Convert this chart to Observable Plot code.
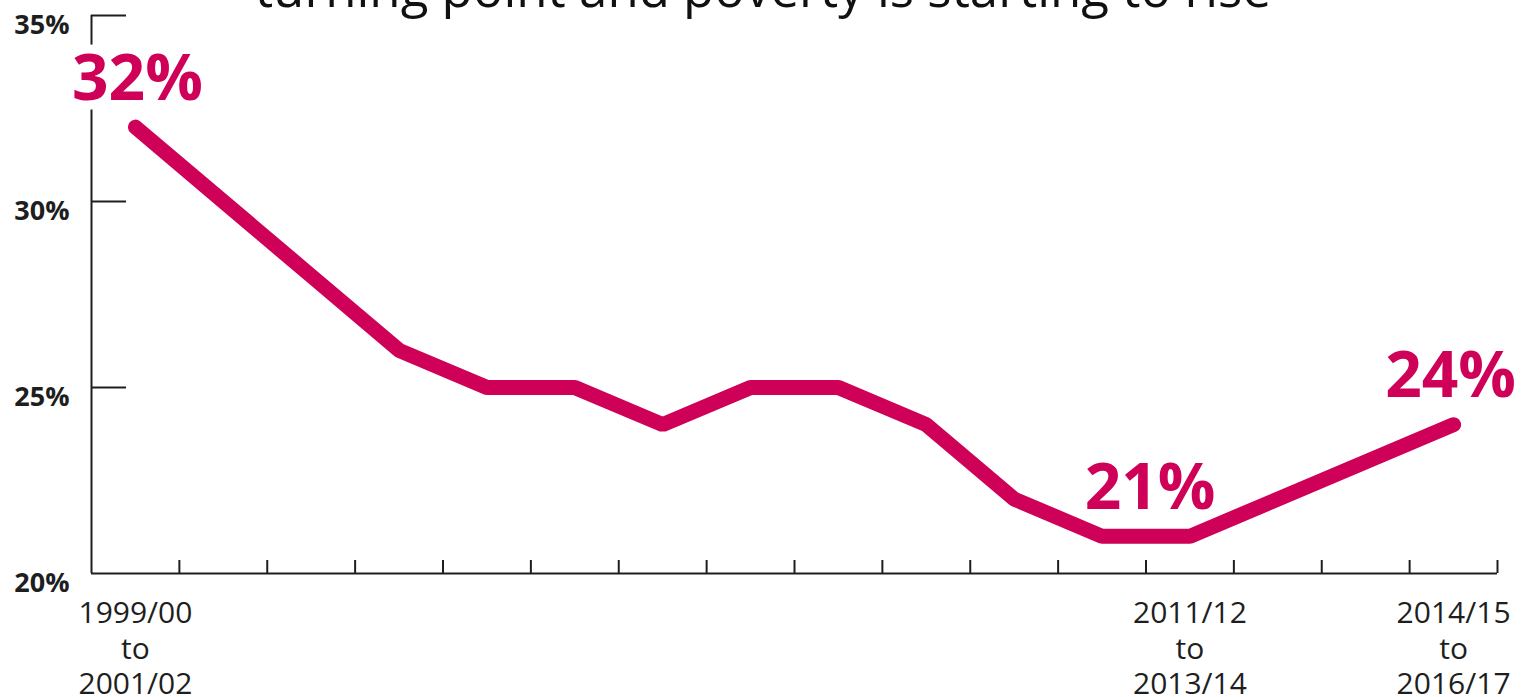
<!DOCTYPE html>
<html>
<head>
<meta charset="utf-8">
<script src="https://cdn.jsdelivr.net/npm/d3@7"></script>
<script src="https://cdn.jsdelivr.net/npm/@observablehq/plot@0.6"></script>
<style>
  html, body { margin: 0; padding: 0; background: #fff; overflow: hidden; }
  #wrap { position: relative; width: 1526px; height: 697px; }
  #title { position: absolute; left: 0; width: 1526px; top: -38px; text-align: center;
           font-family: "Open Sans", sans-serif; font-size: 51px; line-height: 51px; color: #111; }
  #chart { position: absolute; left: 0; top: 0; }
</style>
</head>
<body>
<div id="wrap">
  <div id="chart"></div>
  <div id="title">turning point and poverty is starting to rise</div>
</div>
<script>
const periods = [
  "1999/00\nto\n2001/02", "2000/01\nto\n2002/03", "2001/02\nto\n2003/04", "2002/03\nto\n2004/05",
  "2003/04\nto\n2005/06", "2004/05\nto\n2006/07", "2005/06\nto\n2007/08", "2006/07\nto\n2008/09",
  "2007/08\nto\n2009/10", "2008/09\nto\n2010/11", "2009/10\nto\n2011/12", "2010/11\nto\n2012/13",
  "2011/12\nto\n2013/14", "2012/13\nto\n2014/15", "2013/14\nto\n2015/16", "2014/15\nto\n2016/17"
];
const values = [32, 30, 28, 26, 25, 25, 24, 25, 25, 24, 22, 21, 21, 22, 23, 24];
const labelledPeriods = [1, 13, 16];       // 1-based period index shown on the x axis
const highlighted = [0, 11, 15];           // indices whose value is printed
const labelShift = [2, 48, -3];            // horizontal nudge (px) for each printed value
const yTicks = [20, 25, 30, 35];

const data = values.map((v, i) => ({i: i + 1, v, period: periods[i]}));
const hl = highlighted.map((k) => data[k]);
const boundaries = d3.range(1.5, periods.length + 1, 1);

const W = 1526, H = 697, mL = 91, mR = 29, mT = 15, mB = 124;
const plotW = W - mL - mR, plotH = H - mT - mB;
const pink = "#cf0057", ink = "#1e1e1e";

const chart = Plot.plot({
  width: W, height: H,
  marginLeft: mL, marginRight: mR, marginTop: mT, marginBottom: mB,
  style: {fontFamily: "'Open Sans', sans-serif", background: "transparent"},
  x: {domain: [0.5, periods.length + 0.5]},
  y: {domain: [20, 35]},
  marks: [
    Plot.axisY({ticks: yTicks, tickSize: 0, tickPadding: 22, tickFormat: d => d + "%",
                fontSize: 27, fontWeight: 700, fill: ink, dy: 10, label: null}),
    Plot.axisX({ticks: labelledPeriods, tickSize: 0, tickPadding: 24,
                tickFormat: d => periods[d - 1], fontSize: 30, lineHeight: 1.19,
                fill: ink, label: null}),
    Plot.ruleY(yTicks.slice(1), {stroke: ink, strokeWidth: 2, insetRight: plotW - 35}),
    Plot.ruleX(boundaries, {stroke: ink, strokeWidth: 2, insetTop: plotH - 13}),
    Plot.ruleX([0.5], {stroke: ink, strokeWidth: 2}),
    Plot.ruleY([20], {stroke: ink, strokeWidth: 2}),
    Plot.line(data, {x: "i", y: "v", stroke: pink, strokeWidth: 15,
                     strokeLinecap: "round", strokeLinejoin: "miter"}),
    Plot.text(hl, {x: "i", y: "v", text: d => d.v + "%", dy: -48,
                   fill: pink, stroke: "white", strokeWidth: 18, fontSize: 64,
                   fontWeight: 700, lineAnchor: "middle", textAnchor: "middle"})
  ]
});
// apply per-label horizontal nudges
d3.select(chart).selectAll("g[aria-label='text'] text").each(function(_, j) {
  const t = this.getAttribute("transform") || "";
  this.setAttribute("transform", t + ` translate(${labelShift[j]},0)`);
});
document.getElementById("chart").appendChild(chart);
</script>
</body>
</html>
